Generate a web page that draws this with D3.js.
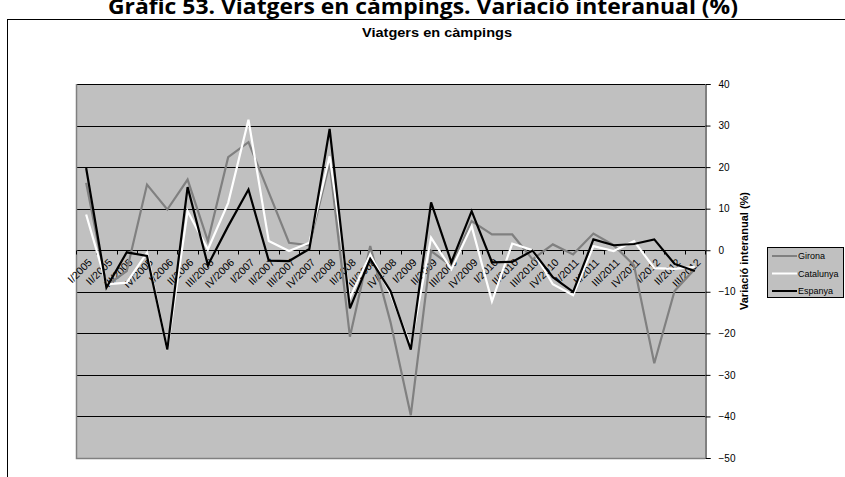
<!DOCTYPE html>
<html><head><meta charset="utf-8">
<script src="https://cdn.jsdelivr.net/npm/d3@7"></script>
<style>body{margin:0;background:#fff;} svg{display:block;}</style>
</head><body>
<svg id="c" width="845" height="477"></svg>
<script>
const categories = ["I/2005","II/2005","III/2005","IV/2005","I/2006","II/2006","III/2006","IV/2006",
"I/2007","II/2007","III/2007","IV/2007","I/2008","II/2008","III/2008","IV/2008",
"I/2009","II/2009","III/2009","IV/2009","I/2010","II/2010","III/2010","IV/2010",
"I/2011","II/2011","III/2011","IV/2011","I/2012","II/2012","III/2012"];
const girona    = [16.2,-8.5,-5.0,15.8,9.8,17.0,2.2,22.4,26.0,13.9,1.8,1.2,21.0,-20.8,1.0,-17.3,-39.7,-0.2,-3.8,7.0,3.8,3.8,-2.2,1.4,-1.0,4.0,1.2,-3.6,-27.2,-9.8,-4.5];
const catalunya = [8.6,-8.2,-7.8,-0.6,-24.0,9.4,0.2,11.4,31.4,2.2,-0.2,1.8,22.6,-11.5,-1.0,-10.5,-23.0,3.0,-4.6,5.8,-12.3,1.6,0.0,-8.2,-10.8,1.0,-0.2,2.2,-4.3,-4.5,-4.0];
const espanya   = [19.8,-9.0,-0.5,-1.4,-23.9,15.2,-3.6,5.8,14.6,-2.5,-2.6,0.3,29.2,-14.0,-2.1,-9.8,-23.9,11.5,-2.9,9.4,-2.9,-2.8,-0.1,-6.5,-10.0,2.6,1.2,1.5,2.6,-3.3,-5.0];
const yTicks = [40,30,20,10,0,-10,-20,-30,-40,-50];
const seriesNames = ["Girona","Catalunya","Espanya"];
const seriesColors = ["#808080","#ffffff","#000000"];
const mainTitle = "Gràfic 53. Viatgers en càmpings. Variació interanual (%)";
const chartTitle = "Viatgers en càmpings";
const yTitle = "Variació interanual (%)";

const svg = d3.select("#c");
const L = 76, R = 705, T = 84, B = 458;

// main title (clipped at top, as in the original)
svg.append("text").attr("x", 423).attr("y", 14).attr("text-anchor","middle")
  .attr("font-family","Open Sans").attr("font-weight","bold").attr("font-size",21)
  .attr("textLength", 630).attr("lengthAdjust","spacingAndGlyphs")
  .text(mainTitle);

// frame
svg.append("rect").attr("x",7.5).attr("y",19.5).attr("width",850).attr("height",470)
  .attr("fill","#fff").attr("stroke","#000").attr("stroke-width",1);

svg.append("text").attr("x",437).attr("y",37).attr("text-anchor","middle")
  .attr("font-family","Liberation Sans").attr("font-weight","bold").attr("font-size",12.5)
  .attr("textLength", 150).attr("lengthAdjust","spacingAndGlyphs")
  .text(chartTitle);

const x = d3.scaleBand().domain(categories).range([L, R]);
const y = d3.scaleLinear().domain([-50, 40]).range([B, T]);

svg.append("rect").attr("x",L).attr("y",T).attr("width",R-L).attr("height",B-T).attr("fill","#c0c0c0");

// gridlines
svg.append("g").selectAll("line").data(yTicks.filter(d=>d!==-50)).join("line")
  .attr("x1",L).attr("x2",R).attr("y1",d=>Math.round(y(d))+0.5).attr("y2",d=>Math.round(y(d))+0.5)
  .attr("stroke","#000").attr("stroke-width",1);

// plot border left & bottom
svg.append("path").attr("d",`M${L+0.5},${T}V${B+0.5}H${R}`).attr("fill","none").attr("stroke","#808080").attr("stroke-width",1.5);

// right axis
const yAxis = d3.axisRight(y).tickValues(yTicks).tickSize(5).tickPadding(8).tickFormat(d3.format("d"));
const ga = svg.append("g").attr("transform",`translate(${R+0.5},0)`).call(yAxis);
ga.select(".domain").attr("stroke","#000");
ga.selectAll("text").attr("font-family","Liberation Sans").attr("font-size",10).attr("fill","#000");

svg.append("text").attr("transform",`translate(748,251) rotate(-90)`).attr("text-anchor","middle")
  .attr("font-family","Liberation Sans").attr("font-weight","bold").attr("font-size",11)
  .text(yTitle);

// x axis at 0
const y0 = Math.round(y(0))+0.5;
const gx = svg.append("g").attr("transform",`translate(0,${y0})`);
const bounds = categories.map(c=> x(c));
bounds.push(R);
gx.selectAll("line.tk").data(bounds).join("line").attr("class","tk")
  .attr("x1",d=>Math.round(d)+0.5).attr("x2",d=>Math.round(d)+0.5).attr("y1",0).attr("y2",4)
  .attr("stroke","#000");
gx.selectAll("text").data(categories).join("text")
  .attr("transform",d=>`translate(${x(d)+x.bandwidth()/2+4},${10}) rotate(-45)`)
  .attr("text-anchor","end").attr("dy","0.35em")
  .attr("font-family","Liberation Sans").attr("font-size",10.5).attr("fill","#000")
  .text(d=>d);

// lines
const data = [girona, catalunya, espanya];
const line = d3.line().x((d,i)=>x(categories[i])+x.bandwidth()/2).y(d=>y(d));
data.forEach((s,k)=>{
  svg.append("path").datum(s).attr("d",line).attr("fill","none")
    .attr("stroke",seriesColors[k]).attr("stroke-width",2.2).attr("stroke-linejoin","miter");
});

// legend
const lg = svg.append("g");
lg.append("rect").attr("x",767.5).attr("y",247.5).attr("width",76).attr("height",50)
  .attr("fill","#c0c0c0").attr("stroke","#000");
seriesNames.forEach((n,k)=>{
  const yy = 256 + k*17.5;
  lg.append("line").attr("x1",772).attr("x2",797).attr("y1",yy).attr("y2",yy)
    .attr("stroke",seriesColors[k]).attr("stroke-width",2);
  lg.append("text").attr("x",798).attr("y",yy).attr("dy","0.35em")
    .attr("font-family","Liberation Sans").attr("font-size",9).text(n);
});
</script>
</body></html>
